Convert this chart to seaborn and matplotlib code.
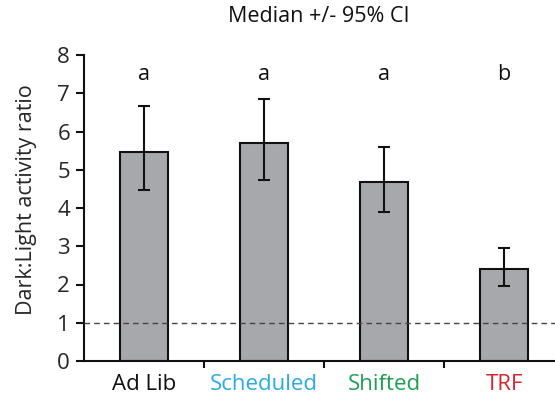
import matplotlib
matplotlib.use("Agg")
import matplotlib.pyplot as plt
import seaborn as sns
import pandas as pd
import numpy as np

# Data
groups = ["Ad Lib", "Scheduled", "Shifted", "TRF"]
medians = [5.47, 5.71, 4.69, 2.41]
ci_low = [4.48, 4.74, 3.90, 1.95]
ci_high = [6.66, 6.86, 5.60, 2.95]
letters = ["a", "a", "a", "b"]
label_colors = ["#111111", "#29aae1", "#1f9e55", "#d3262f"]
yticks = [0, 1, 2, 3, 4, 5, 6, 7, 8]

sns.set_style("white")
plt.rcParams["font.family"] = ["Open Sans", "DejaVu Sans"]

df = pd.DataFrame({"group": groups, "median": medians})

fig = plt.figure(figsize=(5.55, 3.99), dpi=100)
ax = fig.add_axes([84 / 555, 1 - 361 / 399, 480 / 555, 306 / 399])

sns.barplot(data=df, x="group", y="median", order=groups, color="#a7a8ab",
            edgecolor="#111111", linewidth=1.5, width=0.4, saturation=1,
            errorbar=None, ax=ax, zorder=2)

pos = np.arange(len(groups))
med = np.array(medians)
yerr = np.vstack([med - np.array(ci_low), np.array(ci_high) - med])
ax.errorbar(pos, med, yerr=yerr, fmt="none", ecolor="#111111",
            elinewidth=1.5, capsize=4, capthick=1.5, zorder=3)

# Reference line at ratio 1
ax.axhline(1, color="#444444", linestyle=(0, (4, 3)), linewidth=1.0, zorder=4)

for p, letter in zip(pos, letters):
    ax.text(p, 7.48, letter, ha="center", va="center", fontsize=15.5, color="#111111")

ax.set_xlim(-0.5, 3.5)
ax.set_ylim(0, 8)
ax.set_yticks(yticks)
ax.set_yticklabels([str(t) for t in yticks], fontsize=16)

# Tick marks sit between groups; labels sit under each bar
ax.set_xticks([0.5, 1.5, 2.5])
ax.set_xticklabels([])
ax.set_xticks(pos, minor=True)
ax.set_xticklabels(groups, minor=True, fontsize=16)
for lbl, c in zip(ax.get_xticklabels(minor=True), label_colors):
    lbl.set_color(c)
ax.tick_params(axis="x", which="major", direction="out", length=5, width=1.5,
               color="#111111", bottom=True)
ax.tick_params(axis="x", which="minor", length=0, pad=9, bottom=True)
ax.tick_params(axis="y", direction="out", length=6, width=1.5, color="#111111",
               left=True, pad=4)

ax.set_xlabel("")
ax.set_ylabel("Dark:Light activity ratio", fontsize=15.5)
ax.yaxis.set_label_coords(-0.098, 0.526)
sns.despine(ax=ax)
for s in ["left", "bottom"]:
    ax.spines[s].set_linewidth(1.5)
    ax.spines[s].set_color("#111111")

fig.text(319 / 555, 1 - 17 / 399, "Median +/- 95% CI", ha="center", va="center",
         fontsize=15.5, color="#111111")

fig.savefig("out.png", dpi=100)
